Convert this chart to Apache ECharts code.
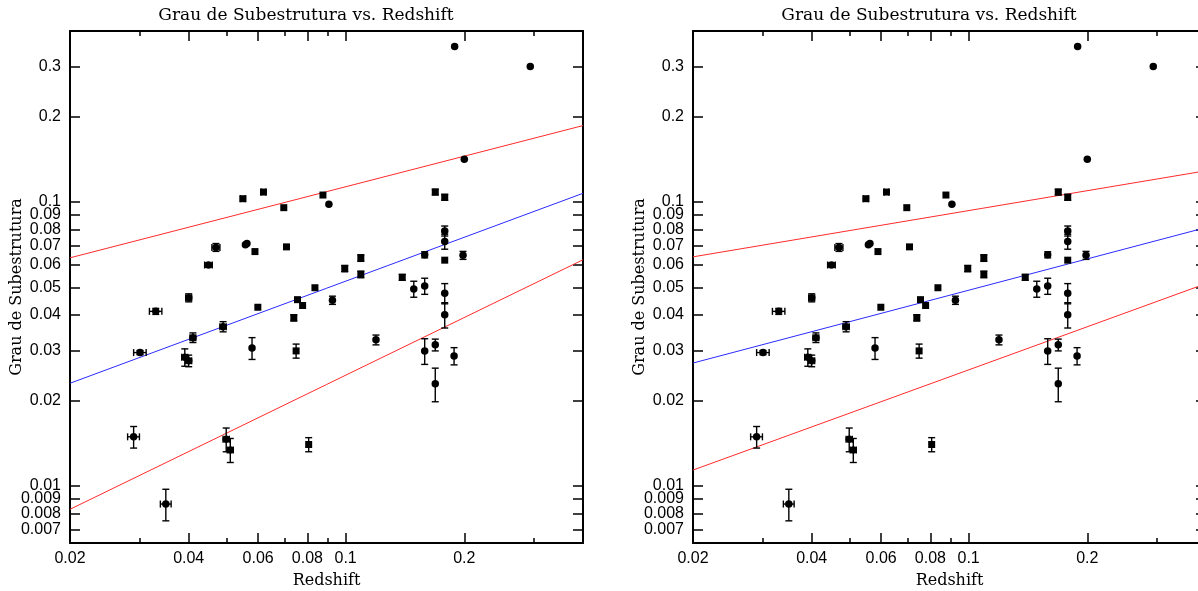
<!DOCTYPE html>
<html><head><meta charset="utf-8">
<script src="https://cdn.jsdelivr.net/npm/echarts@6/dist/echarts.min.js"></script>
<style>html,body{margin:0;padding:0;background:#fff}#c{width:1198px;height:591px}</style>
</head><body><div id="c"></div>
<script>
// ---------- data ----------
const titleText = 'Grau de Subestrutura vs. Redshift';
const xName = 'Redshift';
const yName = 'Grau de Subestrutura';
const xRange = [0.02, 0.4];
const yRange = [0.0063, 0.4];
const xLabelTicks = [0.02, 0.04, 0.06, 0.08, 0.1, 0.2];
const xMajorTicks = [0.04, 0.06, 0.08, 0.1, 0.2];
const xMinorTicks = [0.03, 0.05, 0.07, 0.09, 0.3];
const yLabelTicks = [0.007, 0.008, 0.009, 0.01, 0.02, 0.03, 0.04, 0.05, 0.06, 0.07, 0.08, 0.09, 0.1, 0.2, 0.3];

// [redshift, substructure, xErr, yErr]
const circlePoints = [
  [0.189, 0.353, 0, 0], [0.294, 0.300, 0, 0], [0.200, 0.1415, 0, 0],
  [0.0907, 0.0982, 0, 0], [0.1784, 0.0791, 0, 0.0032], [0.1784, 0.0726, 0, 0.0044],
  [0.1587, 0.0652, 0, 0.0016], [0.1985, 0.0649, 0, 0.0021], [0.1489, 0.0494, 0, 0.0032],
  [0.1587, 0.0506, 0, 0.0033], [0.1784, 0.0477, 0, 0.0039], [0.0926, 0.0451, 0, 0.0015],
  [0.0400, 0.0460, 0.0007, 0.0015], [0.0330, 0.0412, 0.0012, 0.0010], [0.0489, 0.0364, 0.0009, 0.0015],
  [0.0410, 0.0333, 0.0007, 0.0013], [0.0301, 0.0295, 0.0011, 0.0005], [0.0391, 0.0284, 0.0007, 0.0020],
  [0.0400, 0.0276, 0.0007, 0.0013], [0.0579, 0.0306, 0, 0.0027], [0.1194, 0.0327, 0, 0.0013],
  [0.1784, 0.0401, 0, 0.0041], [0.1587, 0.0299, 0, 0.0031], [0.1688, 0.0314, 0, 0.0015],
  [0.1884, 0.0287, 0, 0.0020], [0.1688, 0.0229, 0, 0.0031], [0.0290, 0.0149, 0.0010, 0.0013],
  [0.0498, 0.0146, 0.0009, 0.0014], [0.0510, 0.0134, 0.0009, 0.0013], [0.0350, 0.00864, 0.0011, 0.0011],
  [0.0469, 0.0692, 0.0011, 0.0022], [0.0557, 0.0707, 0, 0], [0.0562, 0.0714, 0, 0],
  [0.0449, 0.0600, 0.0010, 0.0010]
];
const squarePoints = [
  [0.0549, 0.1027, 0.0008, 0], [0.0619, 0.1084, 0.0008, 0], [0.0697, 0.0955, 0, 0],
  [0.0876, 0.1058, 0, 0], [0.1688, 0.1084, 0, 0.0025], [0.1784, 0.1039, 0, 0.0025],
  [0.1784, 0.0624, 0, 0], [0.1093, 0.0635, 0, 0.0017], [0.0995, 0.0583, 0, 0.0015],
  [0.1093, 0.0556, 0, 0.0015], [0.0836, 0.0499, 0, 0], [0.1392, 0.0543, 0, 0.0013],
  [0.0755, 0.0453, 0, 0], [0.0599, 0.0426, 0, 0], [0.0749, 0.0299, 0, 0.0017],
  [0.0806, 0.0140, 0, 0.0008], [0.0589, 0.0669, 0, 0], [0.0708, 0.0695, 0, 0],
  [0.0739, 0.0391, 0, 0.0010], [0.0778, 0.0432, 0, 0]
];

// fit lines (endpoints)
const leftFit   = [[0.02, 0.0230], [0.4, 0.1073]];
const leftUpper = [[0.02, 0.0636], [0.4, 0.1858]];
const leftLower = [[0.02, 0.00828], [0.4, 0.0626]];
const rightFit   = [[0.02, 0.0271], [0.4, 0.0813]];
const rightUpper = [[0.02, 0.0641], [0.4, 0.1288]];
const rightLower = [[0.02, 0.01138], [0.4, 0.0516]];

// ---------- chart ----------
const chart = echarts.init(document.getElementById('c'), null, {renderer: 'canvas'});
const BLACK = '#000';
const labelFont = {color: BLACK, fontFamily: 'Liberation Sans', fontSize: 16};
const nameFont = {color: BLACK, fontFamily: 'DejaVu Serif', fontSize: 16};
const titleFont = {color: BLACK, fontFamily: 'DejaVu Serif', fontSize: 17, fontWeight: 'normal'};
const fmt = v => String(+Number(v).toPrecision(3));

function xAxesFor(gi) {
  const base = {gridIndex: gi, type: 'log', logBase: 10, min: xRange[0], max: xRange[1], splitLine: {show: false}, minorTick: {show: false}, silent: true};
  return [
    Object.assign({}, base, {position: 'bottom', axisLine: {show: true, lineStyle: {color: BLACK, width: 2}},
      axisTick: {show: true, inside: true, length: 10, customValues: xMajorTicks, lineStyle: {color: BLACK, width: 1.5}},
      axisLabel: {show: true, customValues: xLabelTicks, formatter: fmt, margin: 8, showMinLabel: true, showMaxLabel: true, ...labelFont},
      name: xName, nameLocation: 'middle', nameGap: 30, nameMoveOverlap: false, nameTextStyle: nameFont}),
    Object.assign({}, base, {position: 'bottom', axisLine: {show: false},
      axisTick: {show: true, inside: true, length: 5, customValues: xMinorTicks, lineStyle: {color: BLACK, width: 1.5}},
      axisLabel: {show: false, customValues: xMinorTicks}}),
    Object.assign({}, base, {position: 'top', axisLine: {show: true, lineStyle: {color: BLACK, width: 2}},
      axisTick: {show: true, inside: true, length: 10, customValues: xMajorTicks, lineStyle: {color: BLACK, width: 1.5}},
      axisLabel: {show: false, customValues: xMajorTicks}}),
    Object.assign({}, base, {position: 'top', axisLine: {show: false},
      axisTick: {show: true, inside: true, length: 5, customValues: xMinorTicks, lineStyle: {color: BLACK, width: 1.5}},
      axisLabel: {show: false, customValues: xMinorTicks}})
  ];
}
function yAxesFor(gi) {
  const base = {gridIndex: gi, type: 'log', logBase: 10, min: yRange[0], max: yRange[1], splitLine: {show: false}, minorTick: {show: false}, silent: true};
  return [
    Object.assign({}, base, {position: 'left', axisLine: {show: true, lineStyle: {color: BLACK, width: 2}},
      axisTick: {show: true, inside: true, length: 10, customValues: yLabelTicks, lineStyle: {color: BLACK, width: 1.5}},
      axisLabel: {show: true, customValues: yLabelTicks, formatter: fmt, margin: 9, showMinLabel: true, showMaxLabel: true, ...labelFont},
      name: yName, nameLocation: 'middle', nameGap: 45, nameRotate: 90, nameMoveOverlap: false, nameTextStyle: nameFont}),
    Object.assign({}, base, {position: 'right', axisLine: {show: true, lineStyle: {color: BLACK, width: 2}},
      axisTick: {show: true, inside: true, length: 10, customValues: yLabelTicks, lineStyle: {color: BLACK, width: 1.5}},
      axisLabel: {show: false, customValues: yLabelTicks}})
  ];
}

function errRender(params, api) {
  const x = api.value(0), y = api.value(1), xe = api.value(2), ye = api.value(3);
  const st = {stroke: BLACK, lineWidth: 1.4};
  const cap = 3.5;
  const ch = [];
  const seg = (x1, y1, x2, y2) => ch.push({type: 'line', shape: {x1, y1, x2, y2}, style: st});
  if (ye > 0) {
    const a = api.coord([x, y - ye]), b = api.coord([x, y + ye]);
    seg(a[0], a[1], b[0], b[1]);
    seg(a[0] - cap, a[1], a[0] + cap, a[1]);
    seg(b[0] - cap, b[1], b[0] + cap, b[1]);
  }
  if (xe > 0) {
    const a = api.coord([x - xe, y]), b = api.coord([x + xe, y]);
    seg(a[0], a[1], b[0], b[1]);
    seg(a[0], a[1] - cap, a[0], a[1] + cap);
    seg(b[0], b[1] - cap, b[0], b[1] + cap);
  }
  return {type: 'group', children: ch};
}

function seriesFor(xi, yi, fit, upper, lower) {
  const ln = (data, color) => ({type: 'line', xAxisIndex: xi, yAxisIndex: yi, data, showSymbol: false, symbol: 'none', silent: true, animation: false,
    lineStyle: {color, width: 1}, z: 2});
  const allPts = circlePoints.concat(squarePoints);
  return [
    ln(fit, '#2b2bff'), ln(upper, '#ff2b2b'), ln(lower, '#ff2b2b'),
    {type: 'custom', xAxisIndex: xi, yAxisIndex: yi, renderItem: errRender, data: allPts, encode: {x: 0, y: 1}, silent: true, animation: false, z: 3, clip: false},
    {type: 'scatter', xAxisIndex: xi, yAxisIndex: yi, data: circlePoints.map(p => [p[0], p[1]]), symbol: 'circle', symbolSize: 7.5,
      itemStyle: {color: BLACK, opacity: 1}, silent: true, animation: false, z: 4},
    {type: 'scatter', xAxisIndex: xi, yAxisIndex: yi, data: squarePoints.map(p => [p[0], p[1]]), symbol: 'rect', symbolSize: 7,
      itemStyle: {color: BLACK, opacity: 1}, silent: true, animation: false, z: 4}
  ];
}

const option = {
  backgroundColor: '#fff',
  animation: false,
  title: [
    {text: titleText, left: 306, top: 7, padding: 0, textAlign: 'center', textStyle: titleFont},
    {text: titleText, left: 929, top: 7, padding: 0, textAlign: 'center', textStyle: titleFont}
  ],
  grid: [
    {left: 70, top: 31, width: 513, height: 512, containLabel: false, outerBoundsMode: 'none'},
    {left: 693, top: 31, width: 513, height: 512, containLabel: false, outerBoundsMode: 'none'}
  ],
  xAxis: xAxesFor(0).concat(xAxesFor(1)),
  yAxis: yAxesFor(0).concat(yAxesFor(1)),
  series: seriesFor(0, 0, leftFit, leftUpper, leftLower).concat(seriesFor(4, 2, rightFit, rightUpper, rightLower))
};
chart.setOption(option);
</script>
</body></html>
